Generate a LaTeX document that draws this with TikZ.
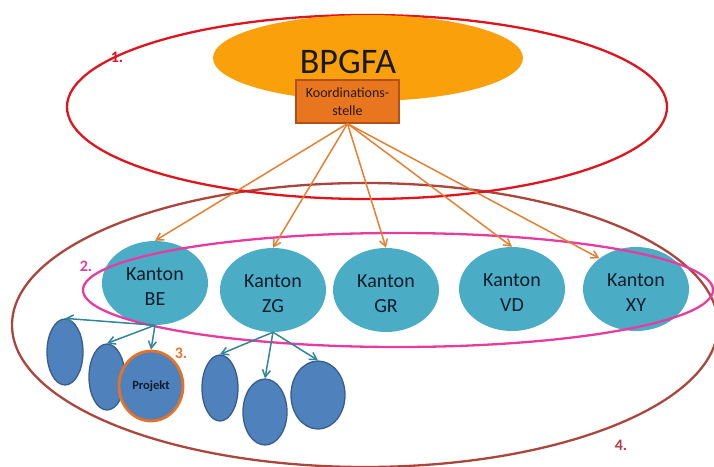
\documentclass[tikz,border=0pt]{standalone}
\usepackage{fontspec}
\setmainfont{Carlito}
\usetikzlibrary{shapes.geometric,arrows.meta}
\definecolor{cred}{RGB}{222,20,30}
\definecolor{corange}{RGB}{250,160,10}
\definecolor{cbox}{RGB}{232,118,30}
\definecolor{cboxline}{RGB}{180,80,20}
\definecolor{carrow}{RGB}{228,128,50}
\definecolor{cteal}{RGB}{75,172,198}
\definecolor{ctealline}{RGB}{49,132,155}
\definecolor{cmag}{RGB}{230,60,160}
\definecolor{cbrown}{RGB}{170,70,60}
\definecolor{cblue}{RGB}{79,129,189}
\definecolor{cblueline}{RGB}{56,93,138}
\definecolor{cproj}{RGB}{228,115,40}
\definecolor{ctext}{RGB}{15,28,42}
\newcommand{\kt}[1]{\raisebox{-10pt}[0pt][0pt]{\begin{tabular}{@{}c@{}}Kanton\\#1\end{tabular}}}
\tikzset{
  ring/.style={ellipse, draw, line width=2.3pt, inner sep=0pt},
  kanton/.style={ellipse, fill=cteal, inner sep=0pt, minimum width=106pt, minimum height=84pt,
    font=\fontsize{20}{25}\selectfont, text=ctext},
  blob/.style={ellipse, fill=cblue, draw=cblueline, line width=1.3pt, inner sep=0pt},
  oarrow/.style={draw=carrow, line width=1.5pt, -{Straight Barb[length=7pt,width=8pt]}},
  tarrow/.style={draw=ctealline, line width=1.5pt, -{Straight Barb[length=7pt,width=8pt]}},
  lbl/.style={font=\fontsize{16}{18}\selectfont\bfseries, inner sep=0pt}
}
\begin{document}
\begin{tikzpicture}[x=1pt,y=-1pt]
\useasboundingbox (0,0) rectangle (714,466);
\clip (0,0) rectangle (714,466);
% outer brown ring 4
\node[ring, draw=cbrown, minimum width=706pt, minimum height=284pt] (r4) at (365,325) {};
% red ring 1
\node[ring, draw=cred, minimum width=600pt, minimum height=184pt] (r1) at (367,107) {};
% BPGFA
\node[ellipse, fill=corange, inner sep=0pt, minimum width=310pt, minimum height=86pt] (bp) at (368,58) {};
\node[font=\fontsize{36}{40}\selectfont, text=black!90, inner sep=0pt] (bpt) at (348,62) {BPGFA};
\node[draw=cboxline, fill=cbox, line width=1.2pt, minimum width=103pt, minimum height=43pt, inner sep=0pt,
  align=center, font=\fontsize{14}{18}\selectfont, text=black!80!brown] (ks) at (347.5,101.5) {Koordinations-\\stelle};
% Kantons
\node[kanton] (be) at (155,283) {\kt{BE}};
\node[kanton] (zg) at (273,290) {\kt{ZG}};
\node[kanton] (gr) at (386,290) {\kt{GR}};
\node[kanton] (vd) at (512,289) {\kt{VD}};
\node[kanton] (xy) at (636,289) {\kt{XY}};
% magenta ring 2
\node[ring, draw=cmag, minimum width=630pt, minimum height=114pt] (r2) at (398,290) {};
% orange arrows
\draw[oarrow] (ks.south) -- (be.north);
\draw[oarrow] (ks.south) -- (zg.north);
\draw[oarrow] (ks.south) -- (gr.north);
\draw[oarrow] (ks.south) -- (vd.north);
\draw[oarrow] (ks.south) -- (xy.140);
% blue blobs
\node[blob, minimum width=36pt, minimum height=66pt] (b1) at (65,352) {};
\node[blob, minimum width=36pt, minimum height=66pt] (b2) at (107,377) {};
\node[ellipse, fill=cblue, draw=cproj, line width=2.8pt, inner sep=0pt, minimum width=64pt, minimum height=70pt,
  font=\fontsize{12.5}{14}\selectfont\bfseries, text=ctext] (pr) at (151,386) {Projekt};
\node[blob, minimum width=36pt, minimum height=66pt] (b4) at (220,388) {};
\node[blob, minimum width=44pt, minimum height=66pt] (b5) at (265,412) {};
\node[blob, minimum width=54pt, minimum height=68pt] (b6) at (318,395) {};
% teal arrows
\draw[tarrow] (be.south) -- (b1.north);
\draw[tarrow] (be.south) -- (b2.north);
\draw[tarrow] (be.south) -- (pr.north);
\draw[tarrow] (zg.south) -- (b4.north);
\draw[tarrow] (zg.south) -- (b5.north);
\draw[tarrow] (zg.south) -- (b6.north);
% labels
\node[lbl, text=cred] (l1) at (117,57) {1.};
\node[lbl, text=cmag] (l2) at (86,266) {2.};
\node[lbl, text=cproj] (l3) at (181,353) {3.};
\node[lbl, text=cbrown!90!magenta] (l4) at (621,445) {4.};
\end{tikzpicture}
\end{document}
